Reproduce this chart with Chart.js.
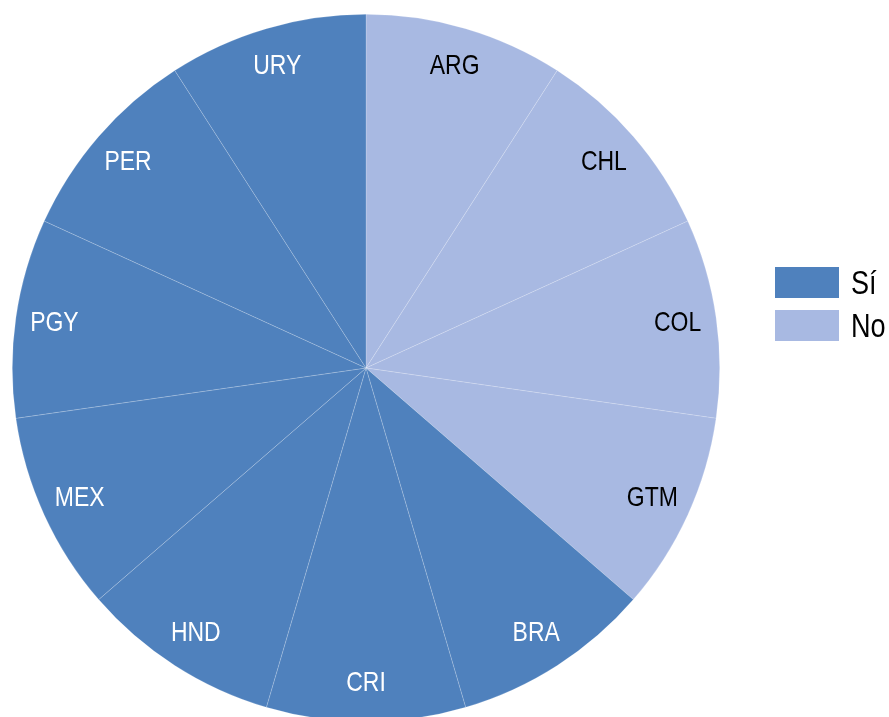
<!DOCTYPE html>
<html>
<head>
<meta charset="utf-8">
<script src="https://cdn.jsdelivr.net/npm/chart.js@4.4.1/dist/chart.umd.min.js"></script>
<style>
  html, body { margin: 0; padding: 0; background: #fff; overflow: hidden; }
  #wrap { position: relative; width: 889px; height: 736px; }
  #legend { position: absolute; left: 775px; top: 267px; font-family: "Liberation Sans Narrow", "Liberation Sans", Arial, sans-serif; font-size: 33px; color: #000; }
  #legend .item { display: flex; align-items: center; height: 31px; margin-bottom: 12px; white-space: nowrap; }
  #legend .box { width: 64px; height: 31px; margin-right: 12px; }
  #legend span { display: inline-block; transform: scaleX(0.82); transform-origin: left center; }
</style>
</head>
<body>
<div id="wrap">
  <canvas id="pie" width="889" height="736"></canvas>
  <div id="legend"></div>
</div>
<script>
// Datos
var countries = ["ARG", "CHL", "COL", "GTM", "BRA", "CRI", "HND", "MEX", "PGY", "PER", "URY"];
var answers = ["No", "No", "No", "No", "Sí", "Sí", "Sí", "Sí", "Sí", "Sí", "Sí"];
var values = [1, 1, 1, 1, 1, 1, 1, 1, 1, 1, 1];
var legendLabels = ["Sí", "No"];
var groupColors = { "Sí": "#4f81bd", "No": "#a8b9e2" };
var labelColors = { "Sí": "#ffffff", "No": "#000000" };

// Etiquetas dentro de cada porcion (letra estrecha simulada con scale)
var sliceLabels = {
    id: "sliceLabels",
    afterDatasetsDraw: function (chart) {
        var ctx = chart.ctx;
        var meta = chart.getDatasetMeta(0);
        meta.data.forEach(function (arc, i) {
            var p = arc.getProps(["x", "y", "startAngle", "endAngle", "outerRadius"], true);
            var mid = (p.startAngle + p.endAngle) / 2;
            var r = p.outerRadius * 0.89;
            ctx.save();
            ctx.translate(p.x + Math.cos(mid) * r, p.y + Math.sin(mid) * r);
            ctx.scale(0.82, 1);
            ctx.font = "28px 'Liberation Sans Narrow', 'Liberation Sans', Arial, sans-serif";
            ctx.textAlign = "center";
            ctx.textBaseline = "middle";
            ctx.fillStyle = labelColors[answers[i]];
            ctx.fillText(countries[i], 0, 0);
            ctx.restore();
        });
    }
};

var pieChart = new Chart(document.querySelector("#pie"), {
    type: "pie",
    data: {
        labels: countries,
        datasets: [{
            data: values,
            backgroundColor: answers.map(function (a) { return groupColors[a]; }),
            borderColor: "rgba(255,255,255,0.3)",
            borderWidth: 0.6
        }]
    },
    options: {
        responsive: false,
        animation: false,
        layout: { padding: { left: 12, right: 169, top: 14, bottom: 14 } },
        plugins: {
            legend: { display: false },
            tooltip: { enabled: false }
        }
    },
    plugins: [sliceLabels]
});

// Leyenda
var legendEl = document.querySelector("#legend");
legendLabels.forEach(function (l) {
    var item = document.createElement("div");
    item.className = "item";
    var box = document.createElement("div");
    box.className = "box";
    box.style.background = groupColors[l];
    var txt = document.createElement("span");
    txt.textContent = l;
    item.appendChild(box);
    item.appendChild(txt);
    legendEl.appendChild(item);
});
</script>
</body>
</html>
